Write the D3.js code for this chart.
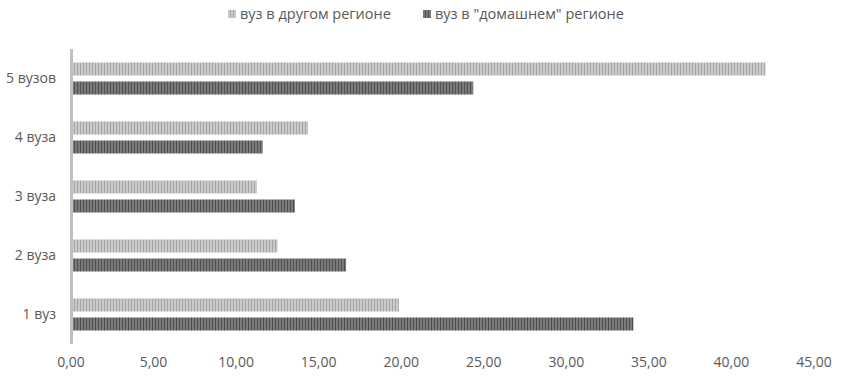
<!DOCTYPE html>
<html>
<head>
<meta charset="utf-8">
<style>
html, body {
    margin: 0;
    padding: 0;
    background: #fff;
    overflow: hidden;
}
text {
    font-family: "Open Sans", "Noto Sans", sans-serif;
    fill: #595959;
}
</style>
</head>
<body>
<script src="https://d3js.org/d3.v7.min.js"></script>
<script>
const categories = ["5 вузов", "4 вуза", "3 вуза", "2 вуза", "1 вуз"];
const seriesNames = ["вуз в другом регионе", "вуз в \"домашнем\" регионе"];
const otherRegion = [42.0, 14.3, 11.2, 12.45, 19.8];
const homeRegion = [24.3, 11.55, 13.5, 16.6, 34.0];
const xTicks = [0, 5, 10, 15, 20, 25, 30, 35, 40, 45];

const [width, height] = [849, 378];
const margin = {top: 49, right: 34, bottom: 34, left: 72};

const svg = d3.select("body").append("svg")
    .attr("width", width)
    .attr("height", height);

// striped fills
const defs = svg.append("defs");
const stripe = (id, light, dark) => {
    const p = defs.append("pattern")
        .attr("id", id)
        .attr("patternUnits", "userSpaceOnUse")
        .attr("width", 3)
        .attr("height", 10);
    p.append("rect").attr("width", 3).attr("height", 10).attr("fill", light);
    p.append("rect").attr("x", 2).attr("width", 1).attr("height", 10).attr("fill", dark);
};
stripe("lightStripe", "#cacaca", "#a5a5a5");
stripe("darkStripe", "#7a7a7a", "#505050");
const fills = ["url(#lightStripe)", "url(#darkStripe)"];

const x = d3.scaleLinear()
    .domain([0, 45])
    .range([margin.left, width - margin.right]);

const y = d3.scaleBand()
    .domain(categories)
    .range([margin.top, height - margin.bottom]);

const barH = 13, gap = 6;

const rows = categories.map((c, i) => ({cat: c, vals: [otherRegion[i], homeRegion[i]]}));

const g = svg.append("g");
rows.forEach(r => {
    const cy = y(r.cat) + y.bandwidth() / 2;
    r.vals.forEach((v, k) => {
        g.append("rect")
            .attr("x", x(0) + 1)
            .attr("y", k === 0 ? cy - gap / 2 - barH : cy + gap / 2)
            .attr("width", x(v) - x(0) - 1)
            .attr("height", barH)
            .attr("fill", fills[k]);
    });
});

// vertical axis line
svg.append("line")
    .attr("x1", x(0) - 0.5).attr("x2", x(0) - 0.5)
    .attr("y1", y.range()[0]).attr("y2", y.range()[1])
    .attr("stroke", "#bfbfbf")
    .attr("stroke-width", 3);

// category labels
svg.append("g")
    .selectAll("text")
    .data(categories)
    .join("text")
        .attr("x", 56)
        .attr("y", d => y(d) + y.bandwidth() / 2)
        .attr("dy", "0.35em")
        .attr("text-anchor", "end")
        .attr("font-size", 14)
        .text(d => d);

// x tick labels
const fmt = d => d3.format(".2f")(d).replace(".", ",");
svg.append("g")
    .selectAll("text")
    .data(xTicks)
    .join("text")
        .attr("x", d => x(d) - 1)
        .attr("y", 362)
        .attr("dy", "0.35em")
        .attr("text-anchor", "middle")
        .attr("font-size", 14)
        .text(fmt);

// legend
const legendX = [228, 423];
const legend = svg.append("g")
    .selectAll("g")
    .data(seriesNames)
    .join("g")
        .attr("transform", (d, i) => `translate(${legendX[i]},14)`);
legend.append("rect")
    .attr("x", 0).attr("y", -4)
    .attr("width", 8).attr("height", 8)
    .attr("fill", (d, i) => fills[i]);
legend.append("text")
    .attr("x", 12)
    .attr("dy", "0.35em")
    .attr("font-size", 14.5)
    .text(d => d);
</script>
</body>
</html>
